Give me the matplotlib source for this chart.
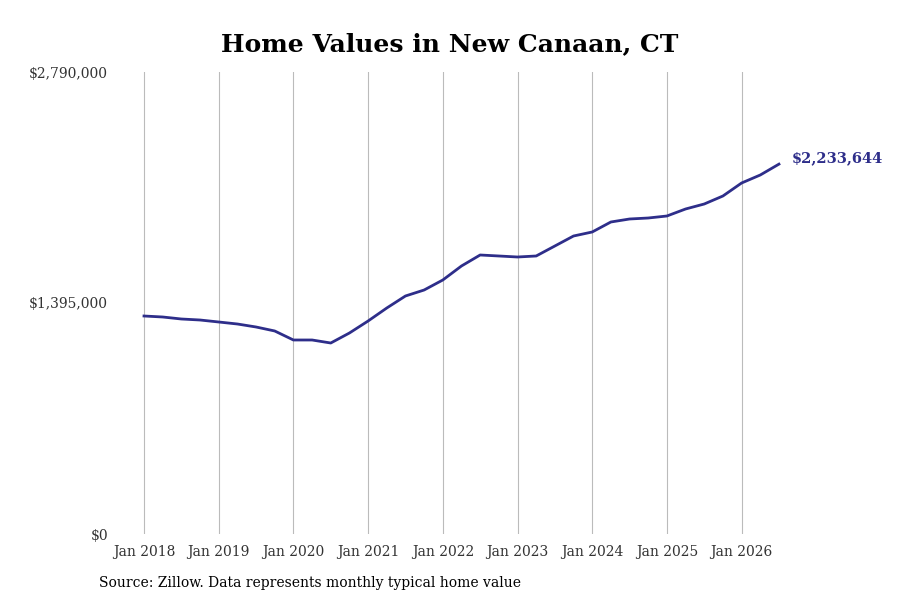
import matplotlib
matplotlib.use("Agg")
import matplotlib.pyplot as plt
import numpy as np

# quarterly readings, Jan 2018 .. Jul 2026
dates = [2018 + i * 0.25 for i in range(35)]
values = [1316500, 1310500, 1298400, 1292300, 1280300, 1268200, 1250100, 1226000,
          1171600, 1171600, 1153400, 1213800, 1286300, 1364800, 1437300, 1473500,
          1533900, 1618500, 1684900, 1678900, 1672800, 1678900, 1739200, 1799600,
          1823800, 1884200, 1902300, 1908300, 1920400, 1962700, 1992900, 2041200,
          2119700, 2168000, 2233644]
tick_years = list(range(2018, 2027))
tick_labels = [f"Jan {y}" for y in tick_years]
yticks = [0, 1395000, 2790000]
ytick_labels = ["$0", "$1,395,000", "$2,790,000"]

plt.rcParams['font.family'] = ['DejaVu Serif']
fig = plt.figure(figsize=(9, 6), dpi=100)
ax = fig.add_axes([115/900, 66/600, (783-115)/900, (534-72)/600])
color = "#2e2e8a"
ax.plot(dates, values, color=color, lw=2)
px = 74.7
ax.set_xlim(2018 - 29/px, 2018 + 639/px)
ax.set_ylim(0, 2790000)
ax.set_xticks(tick_years)
ax.set_xticklabels(tick_labels, fontsize=10, color="#333333")
ax.set_yticks(yticks)
ax.set_yticklabels(ytick_labels, fontsize=10, color="#333333")
ax.tick_params(axis='y', length=0, pad=5)
ax.tick_params(axis='x', length=0, pad=8)
ax.grid(axis='x', color="#bbbbbb", lw=0.8)
for s in ax.spines.values():
    s.set_visible(False)
ax.annotate(f"${values[-1]:,}", (dates[-1], values[-1]), xytext=(9, 4),
            textcoords="offset points", color=color, fontsize=10.5,
            fontweight="bold", va="center", annotation_clip=False)
fig.text(0.5, 0.927 - 7/600, "Home Values in New Canaan, CT", ha="center",
         fontsize=18, fontweight="bold")
fig.text(99/900, 13/600, "Source: Zillow. Data represents monthly typical home value",
         fontsize=10)
fig.savefig("out.png")
